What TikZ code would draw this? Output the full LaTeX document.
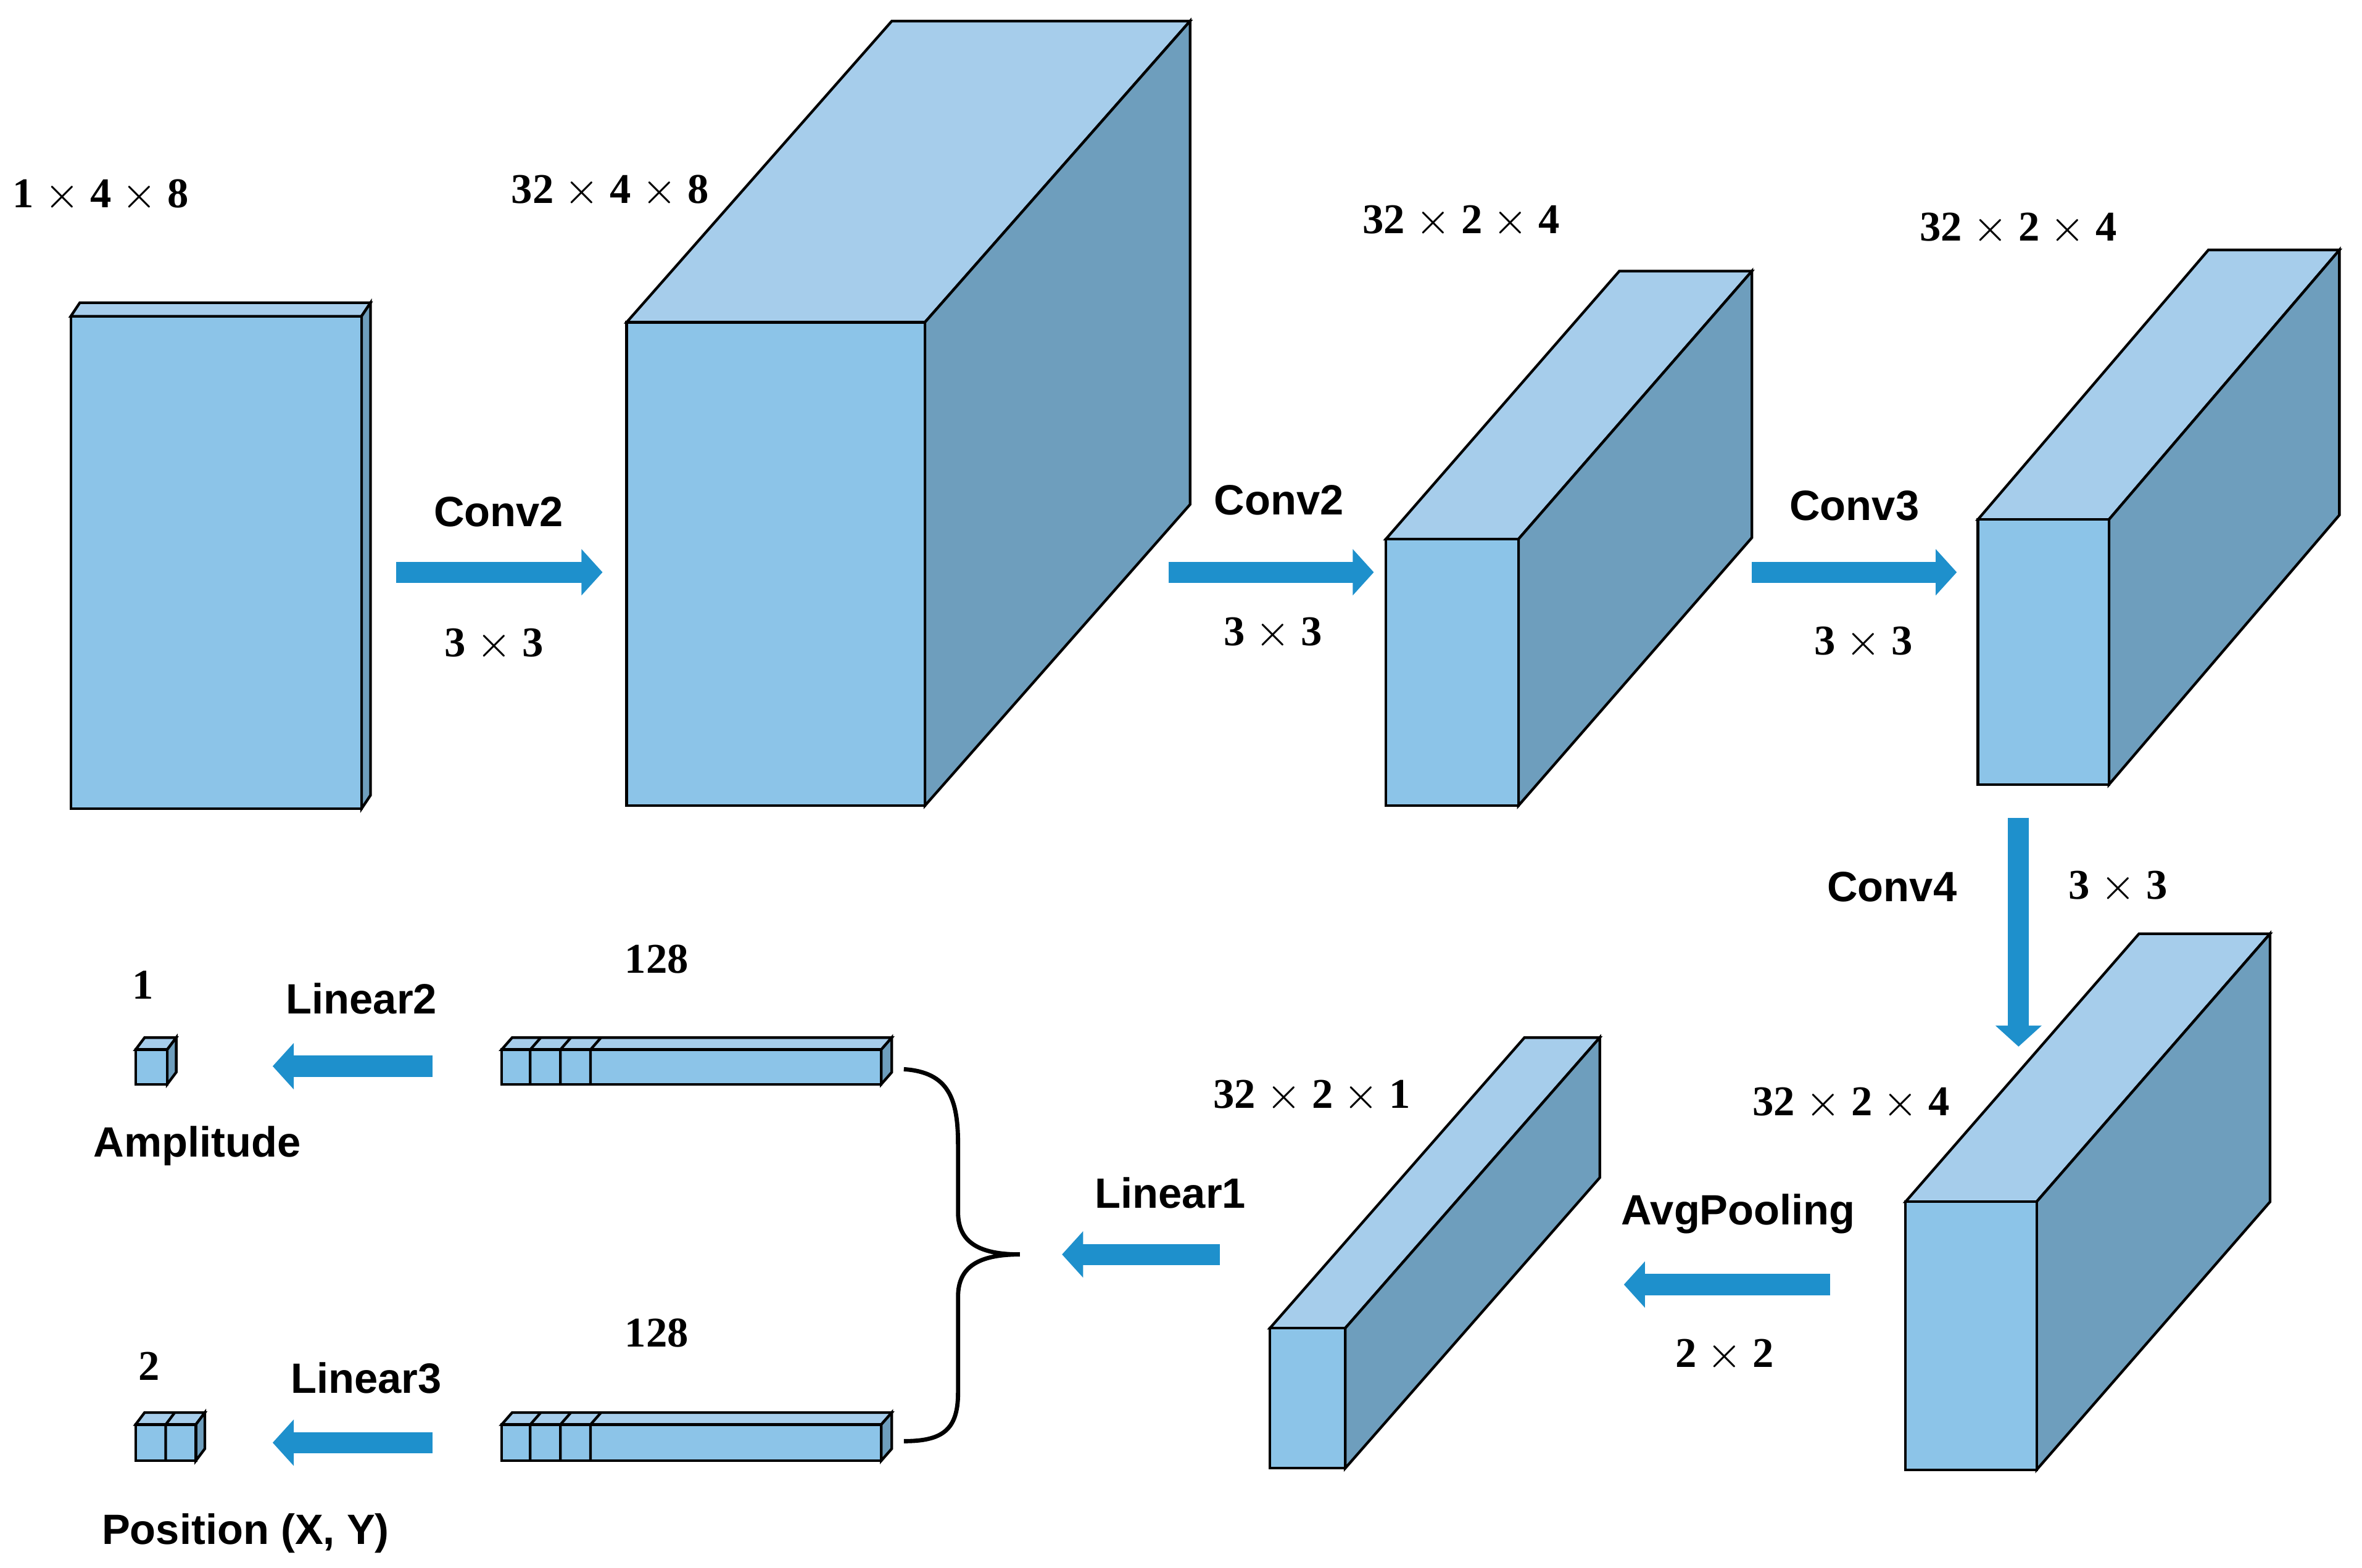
\documentclass[tikz,border=0pt]{standalone}
\usepackage{fontspec}
\setmainfont{Liberation Serif}
\newfontfamily\ssf{Liberation Sans}
\usetikzlibrary{arrows.meta}
\definecolor{cfront}{HTML}{8CC4E8}
\definecolor{ctop}{HTML}{A6CDEB}
\definecolor{cside}{HTML}{6E9EBD}
\definecolor{carr}{HTML}{1E90CC}
\newcommand\mycub[6]{%
 \fill[ctop,draw=black,line width=0.5pt] (#1,#2)--++(#5,#6)--++(#3-#1,0)--(#3,#2)--cycle;
 \fill[cside,draw=black,line width=0.5pt] (#3,#2)--++(#5,#6)--++(0,#4-#2)--(#3,#4)--cycle;
 \fill[cfront,draw=black,line width=0.5pt] (#1,#2) rectangle (#3,#4);}
\tikzset{
 lab/.style={font=\ssf\bfseries\fontsize{8}{9}\selectfont},
 num/.style={font=\bfseries\fontsize{8}{9}\selectfont},
 arr/.style={carr,line width=0.14cm,-{Triangle[length=0.14cm,width=0.3cm]}}
}
\begin{document}
\begin{tikzpicture}[x=0.01cm,y=-0.01cm]
\useasboundingbox (0,0) rectangle (1568,1041);
\mycub{47}{210}{240}{537}{6}{-9}
\mycub{416}{214}{614}{535}{176}{-200}
\mycub{920}{358}{1008}{535}{155}{-178}
\mycub{1313}{345}{1400}{521}{153}{-179}
\mycub{1265}{798}{1352}{976}{155}{-178}
\mycub{843}{882}{893}{975}{169}{-193}
\mycub{333}{697}{585}{720}{7}{-8}
\foreach \x in {352,372,392} \draw[line width=0.5pt] (\x,697)--++(7,-8)--++(0,0) (\x,697)--(\x,720);
\mycub{333}{946}{585}{970}{7}{-8}
\foreach \x in {352,372,392} \draw[line width=0.5pt] (\x,946)--++(7,-8) (\x,946)--(\x,970);
\mycub{90}{697}{111}{720}{6}{-8}
\mycub{90}{946}{130}{970}{6}{-8}
\draw[line width=0.5pt] (110,946)--++(6,-8) (110,946)--(110,970);
% arrows
\coordinate (a1) at (263,380); \coordinate (b1) at (400,380);
\coordinate (a2) at (776,380); \coordinate (b2) at (912,380);
\coordinate (a3) at (1163,380); \coordinate (b3) at (1299,380);
\coordinate (a4) at (1340,543); \coordinate (b4) at (1340,695);
\coordinate (a5) at (1215,853); \coordinate (b5) at (1078,853);
\coordinate (a6) at (810,833); \coordinate (b6) at (705,833);
\coordinate (a7) at (287,708); \coordinate (b7) at (181,708);
\coordinate (a8) at (287,958); \coordinate (b8) at (181,958);
\foreach \i in {1,...,8} \draw[arr] (a\i)--(b\i);
% brace
\coordinate (bt) at (677,833);
\draw[line width=0.8pt] (600,710) .. controls (630,712) and (636,730) .. (636,760)
 -- (636,805) .. controls (636,825) and (650,833) .. (bt)
 .. controls (650,833) and (636,841) .. (636,861) -- (636,925)
 .. controls (636,950) and (625,957) .. (600,957);
% labels
\node[num] (t1) at (67,130) {1 $\times$ 4 $\times$ 8};
\node[num] (t2) at (405,127) {32 $\times$ 4 $\times$ 8};
\node[num] (t3) at (970,147) {32 $\times$ 2 $\times$ 4};
\node[num] (t4) at (1340,152) {32 $\times$ 2 $\times$ 4};
\node[lab] (l1) at (331,340) {Conv2};
\node[num] (k1) at (328,428) {3 $\times$ 3};
\node[lab] (l2) at (849,332) {Conv2};
\node[num] (k2) at (845,421) {3 $\times$ 3};
\node[lab] (l3) at (1231,336) {Conv3};
\node[num] (k3) at (1237,427) {3 $\times$ 3};
\node[lab] (l4) at (1256,589) {Conv4};
\node[num] (k4) at (1406,589) {3 $\times$ 3};
\node[num] (t5) at (1229,733) {32 $\times$ 2 $\times$ 4};
\node[lab] (l5) at (1154,806) {AvgPooling};
\node[num] (k5) at (1145,900) {2 $\times$ 2};
\node[num] (t6) at (871,728) {32 $\times$ 2 $\times$ 1};
\node[lab] (l6) at (777,792) {Linear1};
\node[num] (n1) at (436,637) {128};
\node[num] (n2) at (436,885) {128};
\node[num] (n3) at (95,654) {1};
\node[lab] (l7) at (240,663) {Linear2};
\node[lab] (o1) at (131,761) {Amplitude};
\node[num] (n4) at (99,907) {2};
\node[lab] (l8) at (243,915) {Linear3};
\node[lab] (o2) at (163,1018) {Position (X, Y)};
\end{tikzpicture}
\end{document}
